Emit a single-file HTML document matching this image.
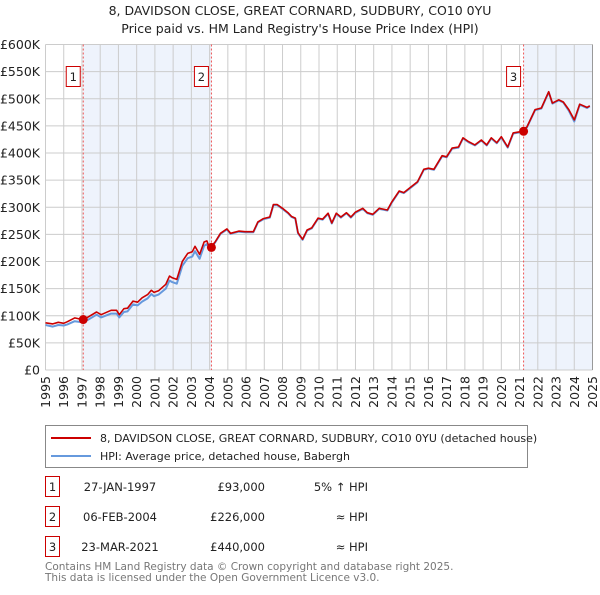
<!DOCTYPE html>
<html><head><meta charset="utf-8"><style>
body{margin:0;background:#fff;font-family:"Liberation Sans","DejaVu Sans",sans-serif;}
svg text{font-family:"DejaVu Sans","Liberation Sans",sans-serif;}
</style></head><body>
<svg id="chart" width="600" height="590" viewBox="0 0 600 590" xmlns="http://www.w3.org/2000/svg">
<text x="300" y="15" text-anchor="middle" font-size="12.5" fill="#222">8, DAVIDSON CLOSE, GREAT CORNARD, SUDBURY, CO10 0YU</text>
<text x="300" y="33" text-anchor="middle" font-size="12.5" fill="#222">Price paid vs. HM Land Registry's House Price Index (HPI)</text>
<g id="plot"></g>
<g>
<rect x="45.5" y="425.5" width="482" height="42" fill="#fff" stroke="#888"/>
<line x1="51" y1="438" x2="91" y2="438" stroke="#cc0000" stroke-width="2"/>
<text x="100" y="442" font-size="11" fill="#222">8, DAVIDSON CLOSE, GREAT CORNARD, SUDBURY, CO10 0YU (detached house)</text>
<line x1="51" y1="456" x2="91" y2="456" stroke="#6699dd" stroke-width="2"/>
<text x="100" y="460" font-size="11" fill="#222">HPI: Average price, detached house, Babergh</text>
</g>
<g font-size="11.5" fill="#222">
<rect x="45.5" y="476.5" width="14" height="20" fill="#fff" stroke="#cc0000"/><text x="52.5" y="491" text-anchor="middle">1</text>
<text x="120" y="491" text-anchor="middle">27-JAN-1997</text><text x="265" y="491" text-anchor="end">£93,000</text><text x="368" y="491" text-anchor="end">5% ↑ HPI</text>
<rect x="45.5" y="506.5" width="14" height="20" fill="#fff" stroke="#cc0000"/><text x="52.5" y="521" text-anchor="middle">2</text>
<text x="120" y="521" text-anchor="middle">06-FEB-2004</text><text x="265" y="521" text-anchor="end">£226,000</text><text x="368" y="521" text-anchor="end">≈ HPI</text>
<rect x="45.5" y="536.5" width="14" height="20" fill="#fff" stroke="#cc0000"/><text x="52.5" y="551" text-anchor="middle">3</text>
<text x="120" y="551" text-anchor="middle">23-MAR-2021</text><text x="265" y="551" text-anchor="end">£440,000</text><text x="368" y="551" text-anchor="end">≈ HPI</text>
</g>
<text x="45" y="570" font-size="10.5" fill="#777">Contains HM Land Registry data © Crown copyright and database right 2025.</text>
<text x="45" y="581" font-size="10.5" fill="#777">This data is licensed under the Open Government Licence v3.0.</text>
</svg>
<script>
const dates=[1995.0,1995.4,1995.7,1996.0,1996.2,1996.6,1997.0,1997.3,1997.8,1998.05,1998.6,1998.9,1999.05,1999.3,1999.5,1999.8,2000.05,2000.3,2000.6,2000.8,2000.95,2001.2,2001.6,2001.8,2001.95,2002.2,2002.5,2002.8,2003.05,2003.2,2003.45,2003.7,2003.85,2004.0,2004.3,2004.6,2004.95,2005.15,2005.6,2005.95,2006.4,2006.65,2006.95,2007.3,2007.5,2007.7,2008.0,2008.3,2008.5,2008.7,2008.85,2009.1,2009.35,2009.6,2009.95,2010.2,2010.5,2010.7,2010.95,2011.2,2011.5,2011.75,2012.0,2012.4,2012.65,2012.95,2013.3,2013.75,2014.0,2014.4,2014.65,2014.95,2015.4,2015.75,2016.0,2016.3,2016.75,2017.0,2017.3,2017.65,2017.9,2018.2,2018.55,2018.9,2019.2,2019.45,2019.75,2020.0,2020.35,2020.65,2021.0,2021.4,2021.85,2022.2,2022.6,2022.8,2023.15,2023.4,2023.7,2024.0,2024.3,2024.7,2024.85];
const priceValues=[87,85,88,86,89,96,93,97,107,102,110,110,102,113,114,127,125,133,139,147,143,146,158,173,170,167,200,215,218,228,213,236,238,224,236,252,260,252,256,255,255,273,279,282,305,305,298,290,283,280,253,241,258,262,280,278,289,271,289,282,290,282,291,298,290,287,298,295,310,330,327,335,347,370,372,370,395,393,409,411,428,421,415,424,415,428,419,430,411,437,439,448,480,483,513,492,498,494,480,461,490,484,487];
const hpiValues=[83,80,83,82,84,90,88,92,102,97,104,104,97,107,108,121,119,126,132,140,136,139,150,165,162,159,192,206,209,219,205,229,232,222,235,251,259,251,255,254,254,272,278,281,304,304,297,289,282,279,252,240,257,261,279,277,288,270,288,281,289,281,290,297,289,286,297,294,309,329,326,334,346,369,371,369,394,392,408,410,427,420,414,423,414,427,418,429,410,436,438,447,479,482,512,491,497,493,478,458,489,483,486];
const saleDates=[1997.07,2004.1,2021.22];
const saleValues=[93,226,440];
const saleLabels=["1","2","3"];
const yTicks=[0,50,100,150,200,250,300,350,400,450,500,550,600];
const yTickLabels=["£0","£50K","£100K","£150K","£200K","£250K","£300K","£350K","£400K","£450K","£500K","£550K","£600K"];
const xTicks=[1995,1996,1997,1998,1999,2000,2001,2002,2003,2004,2005,2006,2007,2008,2009,2010,2011,2012,2013,2014,2015,2016,2017,2018,2019,2020,2021,2022,2023,2024,2025];

const X0=45.5,X1=592.5,Y0=370,Y1=44.5;
const xs=t=>X0+(t-1995)/30*(X1-X0);
const ys=v=>Y0-v/600*(Y0-Y1);
const NS="http://www.w3.org/2000/svg";
const g=document.getElementById('plot');
function mk(tag,attrs,parent){const e=document.createElementNS(NS,tag);for(const k in attrs)e.setAttribute(k,attrs[k]);(parent||g).appendChild(e);return e;}

let s1=mk('rect',{x:xs(saleDates[0]),y:Y1,width:xs(saleDates[1])-xs(saleDates[0]),height:Y0-Y1,fill:'#eef3fc'});


let s2=mk('rect',{x:xs(saleDates[2]),y:Y1,width:X1-xs(saleDates[2]),height:Y0-Y1,fill:'#eef3fc'});



yTicks.forEach((v,i)=>{
  const l=mk('line',{x1:X0,x2:X1,y1:ys(v),y2:ys(v),stroke:'#cccccc','stroke-width':1});
  
  
  const t=mk('text',{x:40,y:ys(v)+4.5,'text-anchor':'end','font-size':12.5,fill:'#222'});
  t.textContent=yTickLabels[i];
  
  
});
xTicks.forEach(yr=>{
  const l=mk('line',{x1:xs(yr),x2:xs(yr),y1:Y1,y2:Y0,stroke:'#cccccc','stroke-width':1});
  
  
  const t=mk('text',{x:0,y:0,'text-anchor':'end','font-size':12.5,fill:'#222',transform:`translate(${xs(yr)+4.5},376) rotate(-90)`});
  t.textContent=yr;
  
  
});

saleDates.forEach((d,i)=>{
  const l=mk('line',{x1:xs(d),x2:xs(d),y1:Y1,y2:Y0,stroke:'#ee5555','stroke-width':1,'stroke-dasharray':'2,2'});
  
  
  const bx=xs(d)-10-7;
  const r=mk('rect',{x:bx,y:66.5,width:14,height:20,fill:'#fff',stroke:'#cc0000'});
  
  
  const t=mk('text',{x:bx+7,y:81,'text-anchor':'middle','font-size':11.5,fill:'#222'});
  t.textContent=saleLabels[i];
  
  
});

function pathFrom(vals){return dates.map((d,i)=>(i?'L':'M')+xs(d).toFixed(1)+','+ys(vals[i]).toFixed(1)).join(' ');}
const hp=mk('path',{d:pathFrom(hpiValues),fill:'none',stroke:'#6699dd','stroke-width':2,'stroke-linejoin':'round'});


const pp=mk('path',{d:pathFrom(priceValues),fill:'none',stroke:'#cc0000','stroke-width':1.6,'stroke-linejoin':'round'});



saleDates.forEach((d,i)=>{
  const c=mk('circle',{cx:xs(d),cy:ys(saleValues[i]),r:4.5,fill:'#cc0000'});
  
  
});

const ax=mk('line',{x1:X1,x2:X1,y1:Y1,y2:Y0,stroke:'#999','stroke-width':1});


</script>
</body></html>
